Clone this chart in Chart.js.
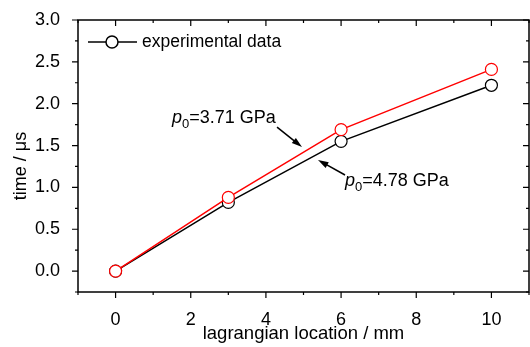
<!DOCTYPE html>
<html>
<head>
<meta charset="utf-8">
<script src="https://cdn.jsdelivr.net/npm/chart.js@4"></script>
<style>html,body{margin:0;padding:0;background:#fff;overflow:hidden}canvas{display:block}</style>
</head>
<body>
<canvas id="chart" width="530" height="347"></canvas>
<script>
// lagrangian location (mm) and arrival time (us)
const locations = [0, 3, 6, 10];
const timeHigh = [0, 0.82, 1.55, 2.22];   // p0=4.78 GPa (black)
const timeLow = [0, 0.88, 1.69, 2.41];    // p0=3.71 GPa (red)
const xTicks = [0, 2, 4, 6, 8, 10];
const yTicks = [0, 0.5, 1.0, 1.5, 2.0, 2.5, 3.0];

const FONT = 'Liberation Sans, Arial, sans-serif';

function pts(ys) { return locations.map((x, i) => ({x: x, y: ys[i]})); }

// frame, ticks (outside on left/bottom, inside on top/right), legend and labels
const decor = {
  id: 'decor',
  afterDraw(chart) {
    const c = chart.ctx, a = chart.chartArea;
    const xs = chart.scales.x, ys = chart.scales.y;
    c.save();
    c.strokeStyle = '#000';
    c.lineWidth = 1.5;
    c.strokeRect(a.left, a.top, a.right - a.left, a.bottom - a.top);

    c.lineWidth = 1.2;
    c.beginPath();
    for (let v = -1; v <= 11; v += 1) {
      const px = xs.getPixelForValue(v);
      const len = (v % 2 === 0) ? 6 : 3;
      c.moveTo(px, a.bottom); c.lineTo(px, a.bottom + len);
      c.moveTo(px, a.top); c.lineTo(px, a.top + len);
    }
    for (let v = -0.25; v <= 3.001; v += 0.25) {
      const py = ys.getPixelForValue(v);
      const major = Math.abs(v * 2 - Math.round(v * 2)) < 1e-6;
      const len = major ? 6 : 3;
      c.moveTo(a.left, py); c.lineTo(a.left - len, py);
      c.moveTo(a.right, py); c.lineTo(a.right - len, py);
    }
    c.stroke();

    // axis titles
    c.fillStyle = '#000';
    c.font = '18.5px ' + FONT;
    c.textAlign = 'center';
    c.textBaseline = 'alphabetic';
    c.fillText('lagrangian location / mm', (a.left + a.right) / 2, 339);
    c.save();
    c.translate(26, 166);
    c.rotate(-Math.PI / 2);
    c.font = '18px ' + FONT;
    c.fillText('time / μs', 0, 0);
    c.restore();
    c.textAlign = 'left';

    // legend
    c.lineWidth = 1.5;
    c.beginPath(); c.moveTo(88, 42); c.lineTo(137, 42); c.stroke();
    c.beginPath(); c.arc(112, 42, 6, 0, Math.PI * 2);
    c.fillStyle = '#fff'; c.fill(); c.stroke();
    c.fillStyle = '#000';
    c.font = '17.5px ' + FONT;
    c.textBaseline = 'middle';
    c.fillText('experimental data', 142, 42);

    // pressure labels with arrows
    function label(x, y, val) {
      let px = xs.getPixelForValue(x), py = ys.getPixelForValue(y);
      c.textBaseline = 'alphabetic';
      c.font = 'italic 18px ' + FONT;
      c.fillText('p', px, py);
      px += c.measureText('p').width;
      c.font = '13px ' + FONT;
      c.fillText('0', px, py + 5);
      px += c.measureText('0').width;
      c.font = '18px ' + FONT;
      c.fillText('=' + val + ' GPa', px, py);
    }
    function arrow(x1, y1, x2, y2) {
      const p1x = xs.getPixelForValue(x1), p1y = ys.getPixelForValue(y1);
      const p2x = xs.getPixelForValue(x2), p2y = ys.getPixelForValue(y2);
      const ang = Math.atan2(p2y - p1y, p2x - p1x);
      c.lineWidth = 1.5;
      c.beginPath(); c.moveTo(p1x, p1y); c.lineTo(p2x - 6 * Math.cos(ang), p2y - 6 * Math.sin(ang)); c.stroke();
      c.beginPath();
      c.moveTo(p2x, p2y);
      c.lineTo(p2x - 11 * Math.cos(ang - 0.3), p2y - 11 * Math.sin(ang - 0.3));
      c.lineTo(p2x - 11 * Math.cos(ang + 0.3), p2y - 11 * Math.sin(ang + 0.3));
      c.closePath(); c.fill();
    }
    label(1.50, 1.77, '3.71');
    arrow(4.295, 1.721, 4.961, 1.482);
    label(6.105, 1.017, '4.78');
    arrow(6.105, 1.148, 5.386, 1.327);
    c.restore();
  }
};

new Chart(document.getElementById('chart'), {
  type: 'line',
  data: {
    datasets: [
      {
        label: 'p0=3.71 GPa',
        data: pts(timeLow),
        borderColor: '#ff0000',
        backgroundColor: '#fff',
        borderWidth: 1.5,
        pointRadius: 6,
        pointBorderWidth: 1.2,
        pointBackgroundColor: '#fff',
        pointBorderColor: '#ff0000'
      },
      {
        label: 'p0=4.78 GPa',
        data: pts(timeHigh),
        borderColor: '#000',
        backgroundColor: '#fff',
        borderWidth: 1.5,
        pointRadius: 6,
        pointBorderWidth: 1.2,
        pointBackgroundColor: '#fff',
        pointBorderColor: '#000'
      }
    ]
  },
  options: {
    responsive: false,
    animation: false,
    layout: {autoPadding: false, padding: {top: 20, right: 1, left: 0, bottom: 0}},
    plugins: {legend: {display: false}, tooltip: {enabled: false}},
    scales: {
      x: {
        type: 'linear', min: -1, max: 11,
        grid: {display: false}, border: {display: false},
        afterBuildTicks: s => { s.ticks = xTicks.map(v => ({value: v})); },
        afterFit: s => { s.height = 55; s.paddingLeft = 0; s.paddingRight = 0; },
        ticks: {color: '#000', font: {family: FONT, size: 18}, padding: 9, maxRotation: 0}
      },
      y: {
        type: 'linear', min: -0.25, max: 3.0,
        grid: {display: false}, border: {display: false},
        afterBuildTicks: s => { s.ticks = yTicks.map(v => ({value: v})); },
        afterFit: s => { s.width = 78; s.paddingTop = 0; s.paddingBottom = 0; },
        ticks: {color: '#000', font: {family: FONT, size: 18}, padding: 10,
                callback: v => v.toFixed(1)}
      }
    }
  },
  plugins: [decor]
});
</script>
</body>
</html>
